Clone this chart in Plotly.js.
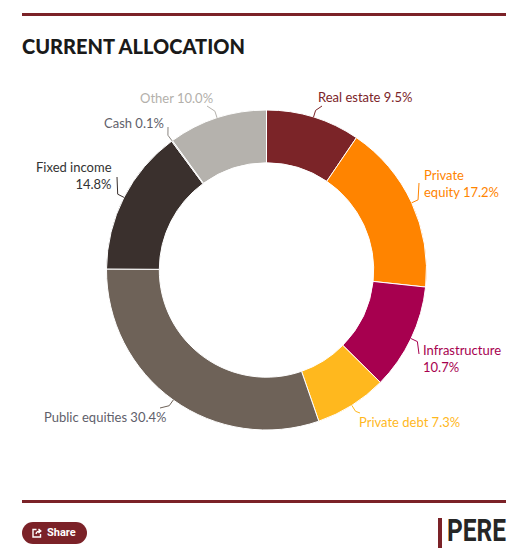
<!DOCTYPE html>
<html>
<head>
<meta charset="utf-8">
<script src="https://cdn.plot.ly/plotly-3.0.1.min.js"></script>
<style>
  html, body { margin:0; padding:0; background:#fff; }
  #wrap { position:relative; width:529px; height:552px; overflow:hidden; }
  #chart { position:absolute; left:0; top:0; width:529px; height:552px; }
  #share { position:absolute; left:22px; top:522px; width:65px; height:22px; border-radius:11px;
           background:#7b2228; color:#fff; font-family:Roboto, sans-serif; font-size:11px; font-weight:700; }
  #share svg { position:absolute; left:10px; top:6px; }
  #share span { position:absolute; left:25px; top:4px; }
  #bar { position:absolute; left:438px; top:518px; width:4px; height:30px; background:#7b2228; }
  #pere { position:absolute; left:447px; top:513px; font-family:Roboto, sans-serif; font-weight:700;
          font-size:31px; color:#262626; transform-origin:0 0; white-space:nowrap; line-height:36px; }
</style>
</head>
<body>
<div id="wrap">
  <div id="chart"></div>
  <div id="share">
    <svg width="10" height="10" viewBox="0 0 10 10"><path d="M4.5 1.5 H1 V9 H8.5 V6" fill="none" stroke="#fff" stroke-width="1.4"/><path d="M4 6 C4.5 3.5 6 3 8.5 3 M6.5 1 L8.8 3 L6.5 5" fill="none" stroke="#fff" stroke-width="1.4"/></svg>
    <span>Share</span>
  </div>
  <div id="bar"></div>
  <div id="pere">PERE</div>
</div>
<script>
// ---- data ----
const categories = ['Real estate', 'Private equity', 'Infrastructure', 'Private debt',
                    'Public equities', 'Fixed income', 'Cash', 'Other'];
const shares = [9.5, 17.2, 10.7, 7.3, 30.4, 14.8, 0.1, 10.0];
const chartTitle = 'CURRENT ALLOCATION';

// ---- style ----
const sliceColors = ['#7b2428', '#ff8400', '#a7004f', '#ffb81e', '#6e6258', '#3a302d', '#8a8580', '#b5b2ad'];
const labelColors = ['#7b2428', '#ff8400', '#a7004f', '#ffb81e', '#5f5f6b', '#333333', '#5f5f6b', '#b3b0ab'];
// label layout (pixels): anchor point (vertical centre of the text block), alignment, connector end, line-break mode
const labelLayout = [
  {x: 317, y: 97,  anchor: 'left',   end: [322, 106], brk: null},
  {x: 423, y: 183, anchor: 'left',   end: [419, 183], brk: 'name'},
  {x: 422, y: 358, anchor: 'left',   end: [419, 354], brk: 'value'},
  {x: 358, y: 422, anchor: 'left',   end: [360, 413], brk: null},
  {x: 167, y: 417, anchor: 'right',  end: [160, 408], brk: null},
  {x: 113, y: 176, anchor: 'right',  end: [117, 177], brk: 'value'},
  {x: 165, y: 123, anchor: 'right',  end: [168, 127], brk: null},
  {x: 176, y: 98,  anchor: 'center', end: [207, 106], brk: null}
];

const W = 529, H = 552;
const cx = 266.5, cy = 270, R = 160, HOLE = 0.67;

const px = x => x / W;
const py = y => 1 - y / H;

const total = shares.reduce((a, b) => a + b, 0);
const annotations = [];
const shapes = [];

// header / footer rules
shapes.push({type: 'line', xref: 'paper', yref: 'paper', x0: px(22), x1: px(506), y0: py(14.5), y1: py(14.5),
             line: {color: '#7b2228', width: 3}});
shapes.push({type: 'line', xref: 'paper', yref: 'paper', x0: px(22), x1: px(506), y0: py(501.5), y1: py(501.5),
             line: {color: '#7b2228', width: 3}});

let cum = 0;
categories.forEach((cat, i) => {
  const mid = (cum + shares[i] / 2) / total * 2 * Math.PI;
  cum += shares[i];
  const L = labelLayout[i];
  const valTxt = shares[i].toFixed(1) + '%';
  let text;
  if (L.brk === 'name') {
    const sp = cat.indexOf(' ');
    text = cat.slice(0, sp) + '<br>' + cat.slice(sp + 1) + ' ' + valTxt;
  } else if (L.brk === 'value') {
    text = cat + '<br>' + valTxt;
  } else {
    text = cat + ' ' + valTxt;
  }
  annotations.push({
    xref: 'paper', yref: 'paper', x: px(L.x), y: py(L.y),
    xanchor: L.anchor, yanchor: 'middle', align: L.anchor === 'right' ? 'right' : 'left',
    showarrow: false, text: text, borderpad: 0,
    font: {family: 'Lato, "Open Sans", sans-serif', size: 13, color: labelColors[i]}
  });
  // connector: slice edge -> slightly outside -> label
  const p0 = [cx + R * Math.sin(mid), cy - R * Math.cos(mid)];
  const p1 = [cx + (R + 7) * Math.sin(mid), cy - (R + 7) * Math.cos(mid)];
  const p2 = L.end;
  shapes.push({
    type: 'path', xref: 'paper', yref: 'paper',
    path: `M ${px(p0[0])} ${py(p0[1])} L ${px(p1[0])} ${py(p1[1])} L ${px(p2[0])} ${py(p2[1])}`,
    line: {color: sliceColors[i], width: 1}
  });
});

const trace = {
  type: 'pie',
  labels: categories,
  values: shares,
  sort: false,
  direction: 'clockwise',
  rotation: 0,
  hole: HOLE,
  textinfo: 'none',
  hoverinfo: 'label+percent',
  marker: {colors: sliceColors, line: {color: '#ffffff', width: 1}},
  domain: {x: [px(cx - R), px(cx + R)], y: [py(cy + R), py(cy - R)]},
  showlegend: false
};

const layout = {
  width: W, height: H,
  margin: {l: 0, r: 0, t: 0, b: 0},
  paper_bgcolor: '#ffffff',
  showlegend: false,
  title: {
    text: chartTitle, xref: 'paper', yref: 'paper', x: px(22), xanchor: 'left',
    y: py(47), yanchor: 'middle',
    font: {family: 'Lato, "Open Sans", sans-serif', size: 20, weight: 900, color: '#1a1a1a'}
  },
  shapes: shapes,
  annotations: annotations
};

Plotly.newPlot('chart', [trace], layout, {displayModeBar: false, staticPlot: true});

// fit the condensed logo text to its box
(function () {
  const el = document.getElementById('pere');
  const w = el.getBoundingClientRect().width;
  if (w > 0) el.style.transform = 'scaleX(' + (59 / w) + ')';
})();
</script>
</body>
</html>
